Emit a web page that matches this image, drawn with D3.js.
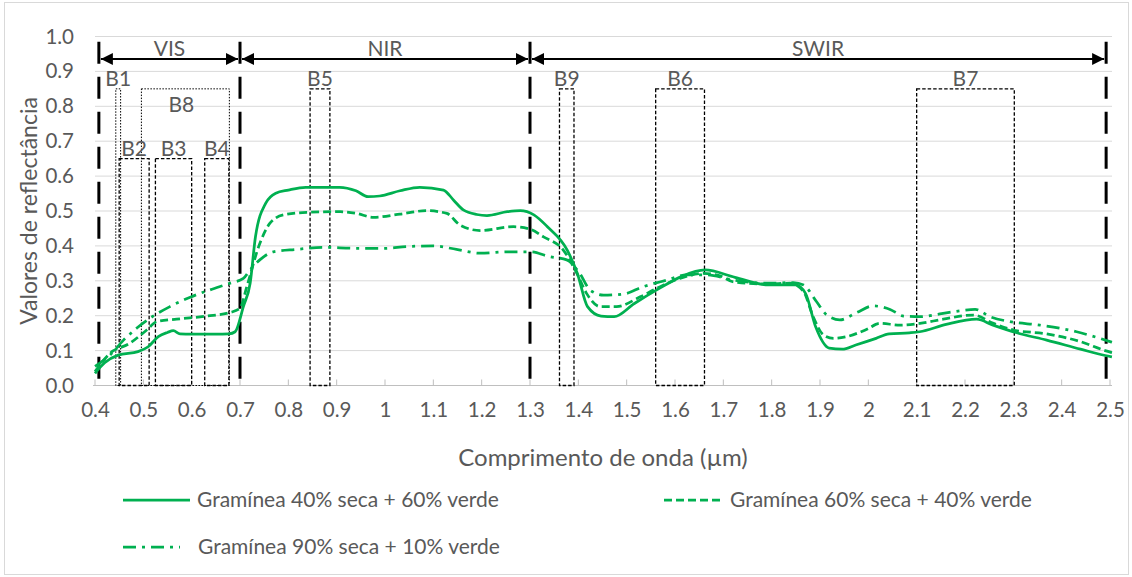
<!DOCTYPE html>
<html>
<head>
<meta charset="utf-8">
<script src="https://cdn.jsdelivr.net/npm/d3@7"></script>
<style>
  body { margin: 0; background: #fff; }
  text { font-family: Lato, "Open Sans", sans-serif; fill: #595959; }
</style>
</head>
<body>
<div id="chart"></div>
<script>
// Wavelength (µm) and reflectance for each mixture
const w40 = [0.4, 0.42, 0.448, 0.489, 0.51, 0.531, 0.55, 0.562, 0.576, 0.6, 0.65, 0.677, 0.69, 0.707, 0.721, 0.732, 0.753, 0.774, 0.8, 0.836, 0.906, 0.94, 0.965, 0.989, 1.031, 1.072, 1.121, 1.142, 1.162, 1.19, 1.211, 1.253, 1.28, 1.308, 1.336, 1.377, 1.398, 1.419, 1.447, 1.474, 1.516, 1.565, 1.613, 1.662, 1.724, 1.794, 1.849, 1.87, 1.891, 1.919, 1.946, 1.974, 2.016, 2.043, 2.085, 2.106, 2.161, 2.224, 2.258, 2.307, 2.369, 2.439, 2.49, 2.504];
const r40 = [0.035, 0.065, 0.087, 0.097, 0.111, 0.14, 0.152, 0.157, 0.148, 0.147, 0.147, 0.148, 0.154, 0.226, 0.293, 0.426, 0.522, 0.551, 0.56, 0.568, 0.568, 0.558, 0.541, 0.543, 0.558, 0.568, 0.56, 0.531, 0.503, 0.49, 0.487, 0.498, 0.501, 0.489, 0.455, 0.388, 0.321, 0.226, 0.199, 0.197, 0.235, 0.276, 0.312, 0.331, 0.31, 0.288, 0.288, 0.264, 0.168, 0.107, 0.104, 0.116, 0.135, 0.148, 0.151, 0.154, 0.175, 0.19, 0.173, 0.151, 0.13, 0.104, 0.086, 0.082];

const w60 = [0.4, 0.431, 0.472, 0.507, 0.528, 0.569, 0.631, 0.679, 0.7, 0.714, 0.741, 0.762, 0.79, 0.838, 0.907, 0.941, 0.976, 1.031, 1.086, 1.128, 1.155, 1.197, 1.266, 1.3, 1.328, 1.369, 1.397, 1.417, 1.445, 1.479, 1.528, 1.562, 1.61, 1.659, 1.693, 1.721, 1.79, 1.838, 1.866, 1.886, 1.907, 1.928, 1.955, 1.997, 2.024, 2.066, 2.107, 2.155, 2.217, 2.259, 2.3, 2.369, 2.438, 2.49, 2.504];
const r60 = [0.04, 0.092, 0.121, 0.159, 0.183, 0.19, 0.199, 0.209, 0.221, 0.283, 0.407, 0.465, 0.489, 0.496, 0.498, 0.493, 0.482, 0.491, 0.501, 0.493, 0.46, 0.444, 0.455, 0.448, 0.426, 0.388, 0.321, 0.264, 0.226, 0.226, 0.254, 0.278, 0.307, 0.321, 0.314, 0.297, 0.291, 0.293, 0.269, 0.197, 0.145, 0.135, 0.14, 0.161, 0.178, 0.173, 0.178, 0.19, 0.202, 0.178, 0.159, 0.148, 0.126, 0.1, 0.094];

const w90 = [0.4, 0.431, 0.459, 0.486, 0.514, 0.555, 0.597, 0.638, 0.679, 0.707, 0.72, 0.741, 0.769, 0.817, 0.872, 0.941, 0.997, 1.045, 1.1, 1.148, 1.197, 1.252, 1.3, 1.341, 1.376, 1.403, 1.424, 1.452, 1.493, 1.534, 1.583, 1.624, 1.665, 1.721, 1.79, 1.845, 1.866, 1.893, 1.914, 1.941, 1.976, 2.01, 2.045, 2.073, 2.107, 2.148, 2.19, 2.221, 2.252, 2.293, 2.355, 2.431, 2.479, 2.504];
const r90 = [0.055, 0.087, 0.13, 0.164, 0.193, 0.226, 0.253, 0.274, 0.293, 0.307, 0.33, 0.36, 0.383, 0.39, 0.396, 0.393, 0.393, 0.398, 0.4, 0.39, 0.379, 0.383, 0.383, 0.369, 0.36, 0.321, 0.274, 0.259, 0.262, 0.283, 0.302, 0.317, 0.317, 0.302, 0.293, 0.295, 0.288, 0.24, 0.202, 0.188, 0.209, 0.228, 0.218, 0.199, 0.197, 0.205, 0.214, 0.218, 0.197, 0.183, 0.173, 0.154, 0.135, 0.124];

const seriesNames = ["Gramínea 40% seca + 60% verde", "Gramínea 60% seca + 40% verde", "Gramínea 90% seca + 10% verde"];

// Spectral regions and satellite bands
const regionNames = ["VIS", "NIR", "SWIR"];
const regionEdges = [0.408, 0.7, 1.3, 2.492];
const bandNames = ["B1", "B2", "B3", "B4", "B8", "B5", "B9", "B6", "B7"];
const bandStart = [0.443, 0.45, 0.525, 0.627, 0.496, 0.845, 1.361, 1.56, 2.1];
const bandEnd = [0.453, 0.512, 0.6, 0.677, 0.678, 0.886, 1.391, 1.661, 2.302];
const bandTop = [0.85, 0.65, 0.65, 0.65, 0.85, 0.85, 0.85, 0.85, 0.85];

const xTicks = d3.range(4, 26).map(d => d / 10);
const yTicks = d3.range(0, 11).map(d => d / 10);

const W = 1132, H = 577;
const green = "#00B050";

const svg = d3.select("#chart").append("svg")
    .attr("width", W).attr("height", H);

// chart border
svg.append("rect")
    .attr("x", 4.5).attr("y", 2.5)
    .attr("width", 1124).attr("height", 572)
    .attr("fill", "none").attr("stroke", "#d9d9d9");

let x = d3.scaleLinear().domain([0.4, 2.5]).range([95, 1110]);
let y = d3.scaleLinear().domain([0, 1]).range([385.5, 36.5]);

/* Gridlines */
svg.append("g").selectAll("line")
    .data(yTicks.slice(1))
    .enter().append("line")
    .attr("x1", 95).attr("x2", 1112)
    .attr("y1", d => y(d)).attr("y2", d => y(d))
    .attr("stroke", "#d9d9d9").attr("stroke-width", 1);

/* Axes */
let xAxis = d3.axisBottom(x)
    .tickValues(xTicks)
    .tickFormat(d => d3.format("")(+d.toFixed(1)))
    .tickSize(0).tickPadding(17);

let gx = svg.append("g")
    .attr("transform", `translate(0, ${y(0)})`)
    .call(xAxis);
gx.select(".domain").remove();
gx.selectAll("text").attr("font-size", "20.5px").style("fill", "#595959")
    .style("font-family", "Lato, sans-serif");

svg.append("line")
    .attr("x1", 93).attr("x2", 1112)
    .attr("y1", y(0)).attr("y2", y(0))
    .attr("stroke", "#bfbfbf").attr("stroke-width", 1);

svg.append("g").selectAll("line")
    .data(xTicks)
    .enter().append("line")
    .attr("x1", d => x(d)).attr("x2", d => x(d))
    .attr("y1", y(0)).attr("y2", y(0) - 6)
    .attr("stroke", "#bfbfbf");

let yAxis = d3.axisLeft(y)
    .tickValues(yTicks)
    .tickFormat(d3.format(".1f"))
    .tickSize(0).tickPadding(21);

let gy = svg.append("g")
    .attr("transform", "translate(95, 0)")
    .call(yAxis);
gy.select(".domain").remove();
gy.selectAll("text").attr("font-size", "20.5px").style("fill", "#595959")
    .style("font-family", "Lato, sans-serif");

svg.append("text")
    .attr("transform", `translate(37, ${y(0.5)}) rotate(-90)`)
    .attr("text-anchor", "middle")
    .attr("font-size", "23px")
    .text("Valores de reflectância");

svg.append("text")
    .attr("x", 603).attr("y", 466)
    .attr("text-anchor", "middle")
    .attr("font-size", "24px")
    .text("Comprimento de onda (µm)");

/* Band boxes */
let bands = bandNames.map((n, i) => ({ name: n, x0: bandStart[i], x1: bandEnd[i], top: bandTop[i] }));
let thinBands = ["B1", "B8"];

svg.append("g").selectAll("rect")
    .data(bands)
    .enter().append("rect")
    .attr("x", d => x(d.x0)).attr("y", d => y(d.top))
    .attr("width", d => x(d.x1) - x(d.x0))
    .attr("height", d => y(0) - y(d.top))
    .attr("fill", "none")
    .attr("stroke", "#000")
    .attr("stroke-width", d => thinBands.includes(d.name) ? 1 : 1.3)
    .attr("stroke-dasharray", d => thinBands.includes(d.name) ? "1.5,1.5" : "3.5,2");

svg.append("g").selectAll("text")
    .data(bands)
    .enter().append("text")
    .attr("x", d => d.name === "B8" ? x(d.x0) + 40 : (x(d.x0) + x(d.x1)) / 2)
    .attr("y", d => d.name === "B8" ? y(d.top) + 23 : y(d.top) - 3)
    .attr("text-anchor", "middle")
    .attr("font-size", "21px")
    .text(d => d.name);

/* Region separators and arrows */
svg.append("g").selectAll("line")
    .data(regionEdges)
    .enter().append("line")
    .attr("x1", d => x(d)).attr("x2", d => x(d))
    .attr("y1", y(0.985)).attr("y2", y(0))
    .attr("stroke", "#000").attr("stroke-width", 3)
    .attr("stroke-dasharray", "22,13");

let defs = svg.append("defs");
defs.append("marker")
    .attr("id", "arrowEnd")
    .attr("viewBox", "0 0 10 10")
    .attr("refX", 10).attr("refY", 5)
    .attr("markerWidth", 7.5).attr("markerHeight", 6)
    .attr("markerUnits", "strokeWidth")
    .attr("orient", "auto-start-reverse")
    .append("path")
    .attr("d", "M0,0L10,5L0,10Z")
    .attr("fill", "#000");

let arrowY = 59;
let regions = regionNames.map((n, i) => ({ name: n, a: regionEdges[i], b: regionEdges[i + 1] }));

svg.append("g").selectAll("line")
    .data(regions)
    .enter().append("line")
    .attr("x1", d => x(d.a) + 2).attr("x2", d => x(d.b) - 2)
    .attr("y1", arrowY).attr("y2", arrowY)
    .attr("stroke", "#000").attr("stroke-width", 2)
    .attr("marker-start", "url(#arrowEnd)")
    .attr("marker-end", "url(#arrowEnd)");

svg.append("g").selectAll("text")
    .data(regions)
    .enter().append("text")
    .attr("x", d => {
        if (d.name === "SWIR") return 818;
        return (x(d.a) + x(d.b)) / 2;
    })
    .attr("y", arrowY - 3)
    .attr("text-anchor", "middle")
    .attr("font-size", "21px")
    .text(d => d.name);

/* Spectral curves */
let line = d3.line()
    .x(d => x(d[0]))
    .y(d => y(d[1]))
    .curve(d3.curveMonotoneX);

let dashes = [null, "8,4", "13,6,3,6"];
let series = [d3.zip(w40, r40), d3.zip(w60, r60), d3.zip(w90, r90)];

svg.append("g").selectAll("path")
    .data(series)
    .enter().append("path")
    .attr("d", line)
    .attr("fill", "none")
    .attr("stroke", green)
    .attr("stroke-width", 2.75)
    .attr("stroke-dasharray", (d, i) => dashes[i]);

/* Legend */
let legendPos = [[123, 500, 67], [664, 500, 59], [123, 547, 57]];
let legend = svg.append("g").selectAll("g")
    .data(seriesNames)
    .enter().append("g")
    .attr("transform", (d, i) => `translate(${legendPos[i][0]}, ${legendPos[i][1]})`);

legend.append("line")
    .attr("x1", 0).attr("x2", (d, i) => legendPos[i][2])
    .attr("y1", 0).attr("y2", 0)
    .attr("stroke", green).attr("stroke-width", 2.75)
    .attr("stroke-dasharray", (d, i) => dashes[i]);

legend.append("text")
    .attr("x", (d, i) => i === 2 ? 75 : legendPos[i][2] + 7)
    .attr("y", 7)
    .attr("font-size", "21px")
    .text(d => d);
</script>
</body>
</html>
